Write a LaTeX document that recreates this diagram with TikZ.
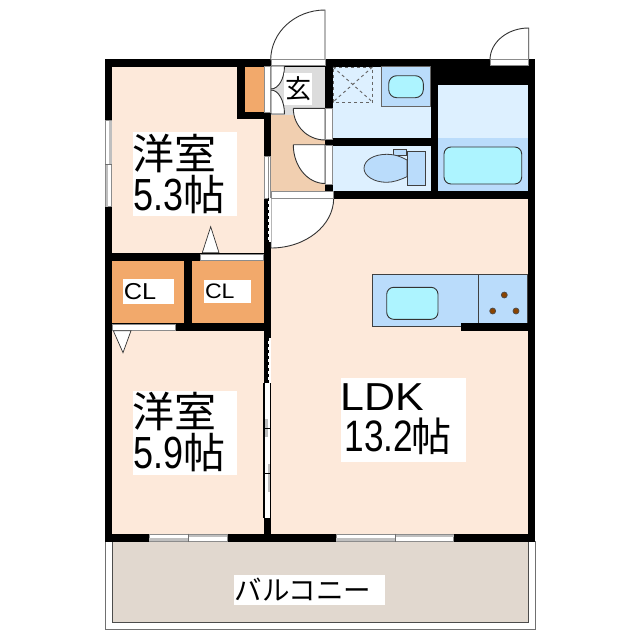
\documentclass[tikz,border=0pt]{standalone}
\usepackage{fontspec}
\setmainfont{Liberation Sans}
\newfontfamily\cjk{Noto Sans CJK JP}
\newfontfamily\numfont[FakeStretch=0.8]{Liberation Sans}
\newfontfamily\capfont[FakeStretch=1.1]{Liberation Sans}
\definecolor{roomcol}{HTML}{FDE9DA}
\definecolor{closetcol}{HTML}{F2A96B}
\definecolor{hallcol}{HTML}{F1CFB0}
\definecolor{porchcol}{HTML}{DCDCDC}
\definecolor{wetcol}{HTML}{DDF0FF}
\definecolor{fixcol}{HTML}{BADCFB}
\definecolor{basincol}{HTML}{ADF4FF}
\definecolor{balccol}{HTML}{E1D8CF}
\definecolor{burncol}{HTML}{8A4300}
\definecolor{sashcol}{HTML}{707070}
\begin{document}
\begin{tikzpicture}[x=1pt,y=-1pt]
\tikzset{wall/.style={fill=black, draw=none}}
\tikzset{fixture/.style={draw=black!75, line width=0.8pt, fill=fixcol}}
\tikzset{basin/.style={draw=black!80, line width=0.9pt, fill=basincol}}
\tikzset{door/.style={draw=black!80, line width=0.9pt, fill=white}}
\tikzset{sill/.style={draw=black!45, line width=0.5pt, fill=white}}
\tikzset{sash/.style={draw=none, fill=sashcol!45}}
\tikzset{tag/.style={fill=white, inner sep=0pt, text=black, align=left}}
\tikzset{roomtag/.style={tag, minimum height=84pt, text width=104pt, font=\fontsize{42}{41}\selectfont}}
\useasboundingbox (0,0) rectangle (640,640);
% balcony
\draw[draw=sashcol, line width=0.9pt, fill=white] (105,541) rectangle (535,629.5);
\draw[draw=black!70, line width=0.9pt, fill=balccol] (112,541) rectangle (528,622.5);
% floors
\fill[roomcol] (105,59) rectangle (535,541);
\fill[white] (271,59) rectangle (333,115);
\fill[closetcol] (245,66) rectangle (264,112);
\fill[closetcol] (112,260) rectangle (184,323);
\fill[closetcol] (191,260) rectangle (264,323);
\fill[porchcol] (271,66) rectangle (325,115);
\fill[hallcol] (271,115) rectangle (325,191);
\fill[wetcol] (332,66) rectangle (431,138);
\fill[wetcol] (332,145) rectangle (431,191);
\fill[wetcol] (438,84) rectangle (528,138);
\fill[fixcol] (438,138) rectangle (528,191);
% walls
\fill[wall] (105,59) rectangle (535,66.5);
\fill[wall] (105,59) rectangle (112,541);
\fill[wall] (528,59) rectangle (535,541);
\fill[wall] (105,534) rectangle (535,541.5);
\fill[wall] (264,59) rectangle (271,541);
\fill[wall] (237,59) rectangle (245,119);
\fill[wall] (237,112) rectangle (271,119);
\fill[wall] (105,253) rectangle (264,260.5);
\fill[wall] (105,323) rectangle (271,330.5);
\fill[wall] (184,253) rectangle (191.5,330);
\fill[wall] (325,59) rectangle (332.5,191);
\fill[wall] (325,138) rectangle (438,145.5);
\fill[wall] (431,59) rectangle (438,198);
\fill[wall] (325,191) rectangle (535,198.5);
\fill[wall] (431,59) rectangle (535,84.5);
% kitchen
\draw[fixture] (372.7,274) rectangle (527.7,326.7);
\draw[fixture] (478.3,274) -- (478.3,324);
\draw[basin, rounded corners=7pt] (386.7,287.3) rectangle (438,319.3);
\draw[draw=black!70, line width=0.7pt, fill=burncol] (504.3,295) circle (3);
\draw[draw=black!70, line width=0.7pt, fill=burncol] (492.7,311) circle (3);
\draw[draw=black!70, line width=0.7pt, fill=burncol] (516,311) circle (3);
\fill[wall] (460.7,323.3) rectangle (528,330.7);
% wash basin and shower
\draw[fixture, draw=black!60] (381.7,66.5) rectangle (430.5,106.7);
\draw[basin, rounded corners=8pt] (388.7,75.7) rectangle (423.3,97.7);
\draw[draw=black!60, line width=0.9pt, dashed] (333,67) -- (372.5,67) -- (372.5,102) -- (333,102) -- cycle;
\draw[draw=black!60, line width=0.9pt, dashed] (333,67) -- (372.5,102);
\draw[draw=black!60, line width=0.9pt, dashed] (372.5,67) -- (333,102);
% toilet
\draw[fixture] (393.3,149.7) rectangle (406.7,155.5);
\draw[fixture] (407,160) .. controls (398,155) and (392,154.3) .. (386.7,154.3) .. controls (374,154.3) and (364,160) .. (364,168.3) .. controls (364,176) and (374,182.3) .. (386.7,182.3) .. controls (393,182.3) and (400,180) .. (407,176.7) -- cycle;
\draw[fixture] (407,151.7) rectangle (425.7,185);
% tub
\draw[basin, rounded corners=7pt] (444,147) rectangle (521.7,184);
% doors
\draw[door] (325,60) -- (325,10) arc[start angle=270, end angle=180, x radius=54.3, y radius=50] -- cycle;
\draw[door] (528.7,60) -- (528.7,28) arc[start angle=270, end angle=180, x radius=38.7, y radius=32] -- cycle;
\draw[door] (271,198) -- (271,248) arc[start angle=90, end angle=0, x radius=62.7, y radius=50] -- cycle;
\draw[door] (293.3,108.3) -- (325,108.3) -- (325,140) arc[start angle=90, end angle=180, x radius=31.7, y radius=31.7];
\draw[door] (293.3,144.7) -- (325,144.7) -- (325,183.5) arc[start angle=90, end angle=180, x radius=31.7, y radius=38.8];
\draw[door] (271,66) -- (284.5,66) arc[start angle=0, end angle=90, x radius=13.5, y radius=23] -- cycle;
\draw[door] (271,114) -- (284.5,114) arc[start angle=0, end angle=-90, x radius=13.5, y radius=24] -- cycle;
% sills of the doors
\draw[sill] (271,59.7) rectangle (325,65.5);
\draw[sill] (490,59.3) rectangle (528.7,65.7);
\draw[sill] (271,191.5) rectangle (333.5,198);
\draw[sill] (325.3,108.3) rectangle (332.5,139);
\draw[sill] (325.3,145.5) rectangle (332.5,184);
\draw[sill] (264,66.5) rectangle (270.7,112);
\draw[sill] (200.7,254) rectangle (263.5,260);
\draw[sill] (112,324) rectangle (175,330);
\draw[door, line width=0.7pt] (210.7,226.7) -- (202.3,252.7) -- (219,252.7) -- cycle;
\draw[door, line width=0.7pt] (123,352.7) -- (113.3,330.7) -- (131,330.7) -- cycle;
% windows
\draw[sill] (105.5,120.7) rectangle (111.7,206.7);
\fill[sash] (105.5,164) rectangle (108,206.7);
\fill[sash] (108.5,120.7) rectangle (111.7,164);
\draw[sashcol] (105,164) -- (112,164);
\draw[sill] (149,534.7) rectangle (227,541);
\fill[sash] (188,534.7) rectangle (227,537.3);
\fill[sash] (149,538.3) rectangle (188,541);
\draw[sashcol] (187.8,533.5) -- (187.8,542);
\draw[sill] (336,534.7) rectangle (453.7,541);
\fill[sash] (395,534.7) rectangle (453.7,537.3);
\fill[sash] (336,538.3) rectangle (395,541);
\draw[sashcol] (395,533.5) -- (395,542);
% sliding doors in the middle wall
\draw[sill] (264.3,156) rectangle (268,198);
\draw[sill] (268,156) rectangle (270.7,198);
\fill[white] (267.5,198) rectangle (271,242);
\draw[black, line width=0.9pt, dashed] (268.7,198) -- (268.7,242);
\fill[white] (267.5,338) rectangle (271,383);
\draw[black, line width=0.9pt, dashed] (268.7,338) -- (268.7,383);
\fill[white] (264.5,383) rectangle (270.5,518);
\fill[sash] (265,419) rectangle (267.7,437);
\fill[sash] (268,464) rectangle (270,492);
\draw[black, line width=0.8pt] (263.8,383) -- (263.8,518);
\draw[black, line width=0.8pt] (270.5,383) -- (270.5,518);
\draw[black, line width=0.8pt] (263.8,428.3) -- (270.5,428.3);
\draw[black, line width=0.8pt] (263.8,473.3) -- (270.5,473.3);
% labels
\node[roomtag] (yoshitsuA) at (184.7,173.8) {{\cjk 洋室}\\\hspace*{1pt}{\fontsize{45}{41}\selectfont\numfont 5.3}{\cjk 帖}};
\node[roomtag] (yoshitsuB) at (184.7,432.5) {{\cjk 洋室}\\\hspace*{1pt}{\fontsize{45}{41}\selectfont\numfont 5.9}{\cjk 帖}};
\node[roomtag, text width=125pt] (ldk) at (403.3,419.5) {{\fontsize{39}{41}\selectfont\capfont LDK}\\\hspace*{4pt}{\fontsize{44}{41}\selectfont\numfont 13.2}\hspace*{-2pt}{\fontsize{40}{41}\selectfont\cjk 帖}};
\node[tag, text width=51pt, minimum height=25pt, font=\fontsize{23}{25}\selectfont\capfont] (clA) at (148.3,291.7) {\hspace*{1pt}CL};
\node[tag, text width=47pt, minimum height=23pt, font=\fontsize{21}{23}\selectfont\capfont] (clB) at (227.5,291.5) {\hspace*{1pt}CL};
\node[tag, minimum width=28pt, minimum height=32pt, font=\fontsize{26}{28}\selectfont\cjk] (genkan) at (298,89) {玄};
\node[tag, text width=151pt, minimum height=30pt, font=\fontsize{27.5}{30}\selectfont\cjk] (balcony) at (309,590) {\hspace*{1pt}バルコニー};
\end{tikzpicture}
\end{document}
